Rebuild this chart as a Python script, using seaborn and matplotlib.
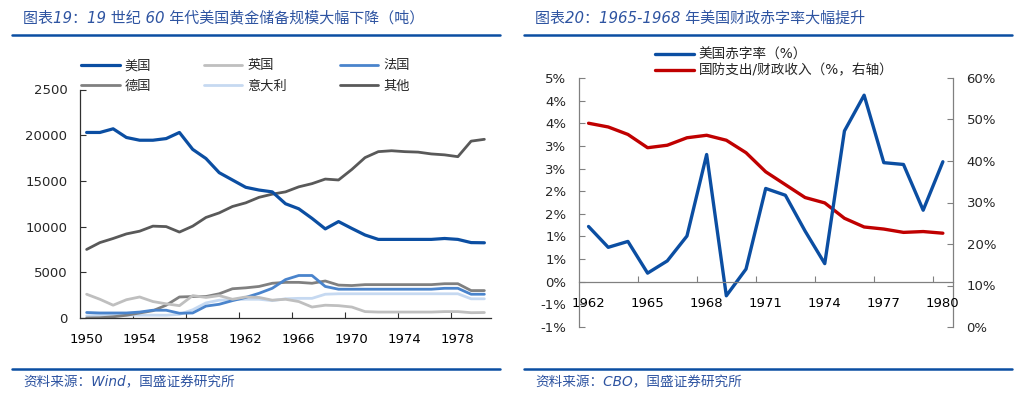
import numpy as np
import pandas as pd
import matplotlib
matplotlib.use('Agg')
import matplotlib.pyplot as plt
from matplotlib.lines import Line2D
from matplotlib.ticker import FixedLocator
import seaborn as sns

# ---- left chart: gold reserves (tonnes) ----
years = list(range(1950, 1981))
us = [20300, 20300, 20700, 19750, 19450, 19450, 19630, 20300, 18450, 17450,
      15900, 15100, 14300, 14000, 13800, 12500, 11950, 10900, 9750, 10550,
      9800, 9080, 8600, 8600, 8600, 8600, 8600, 8700, 8600, 8250, 8230]
uk = [2600, 2050, 1400, 2000, 2300, 1800, 1550, 1350, 2450, 2250,
      2450, 2050, 2300, 2250, 1950, 2050, 1800, 1200, 1400, 1350,
      1200, 700, 650, 650, 650, 650, 650, 700, 700, 580, 600]
france = [600, 550, 550, 550, 650, 850, 850, 520, 550, 1300,
          1500, 1900, 2250, 2700, 3250, 4200, 4650, 4650, 3450, 3150,
          3150, 3150, 3150, 3150, 3150, 3150, 3150, 3250, 3250, 2600, 2600]
germany = [0, 30, 130, 300, 550, 800, 1400, 2300, 2350, 2350,
           2650, 3200, 3300, 3450, 3800, 3900, 3900, 3800, 4050, 3600,
           3550, 3650, 3650, 3650, 3650, 3650, 3650, 3750, 3750, 3000, 3000]
italy = [230, 300, 310, 310, 310, 310, 300, 400, 900, 1650,
         1950, 2000, 2050, 2050, 1900, 2100, 2150, 2150, 2600, 2650,
         2650, 2650, 2650, 2650, 2650, 2650, 2650, 2650, 2650, 2100, 2100]
others = [7500, 8250, 8700, 9200, 9500, 10050, 10000, 9400, 10050, 11000,
          11500, 12200, 12600, 13200, 13550, 13800, 14350, 14700, 15200, 15100,
          16250, 17550, 18200, 18300, 18200, 18150, 17950, 17850, 17650, 19350, 19550]
left_yticks = [0, 5000, 10000, 15000, 20000, 25000]
left_yticklabels = ['0', '5000', '10000', '15000', '20000', '2500']
left_xticks = [1950, 1954, 1958, 1962, 1966, 1970, 1974, 1978]

# ---- right chart: deficit ratio and defence / revenue ----
years2 = list(range(1962, 1981))
deficit = [1.22, 0.76, 0.89, 0.19, 0.46, 1.01, 2.81, -0.31, 0.28, 2.06,
           1.91, 1.12, 0.40, 3.33, 4.12, 2.63, 2.59, 1.58, 2.65]
defense = [49.1, 48.2, 46.4, 43.2, 43.8, 45.6, 46.2, 45.0, 42.0, 37.4,
           34.3, 31.2, 29.9, 26.2, 24.1, 23.6, 22.8, 23.0, 22.6]
right_ytick_vals = [-1, -0.5, 0, 0.5, 1, 1.5, 2, 2.5, 3, 3.5, 4, 4.5]
right_yticklabels = ['-1%', '-1%', '0%', '1%', '1%', '2%', '2%', '3%', '3%', '4%', '4%', '5%']
right_xticks = [1962, 1965, 1968, 1971, 1974, 1977, 1980]
twin_ticks = [0, 10, 20, 30, 40, 50, 60]

sns.set_theme(style='white')
plt.rcParams['font.family'] = ['DejaVu Sans', 'Noto Sans CJK SC']

W, H = 1024, 395
fig = plt.figure(figsize=(W / 100, H / 100), dpi=100)

head_color = '#2E54A1'
rule_color = '#0B4EA2'

def px(x0, y0, w, h):
    return [x0 / W, 1 - (y0 + h) / H, w / W, h / H]

# ---------------- left chart ----------------
ax1 = fig.add_axes(px(80, 89.5, 411, 228.5))
series = [
    ('美国', us, '#0B4EA2', 2.3),
    ('英国', uk, '#BFBFBF', 2.0),
    ('法国', france, '#4A84CC', 2.0),
    ('德国', germany, '#808080', 2.0),
    ('意大利', italy, '#C6D9F1', 2.0),
    ('其他', others, '#595959', 2.0),
]
for name, vals, color, lw in series[::-1]:
    sns.lineplot(x=years, y=vals, ax=ax1, color=color, linewidth=lw, label=name)

ax1.set_xlim(1949.5, 1980.5)
ax1.set_ylim(0, 25000)
ax1.set_yticks(left_yticks)
ax1.set_yticklabels(left_yticklabels)
ax1.set_xticks(left_xticks)
ax1.set_xticklabels([str(y) for y in left_xticks])
ax1.xaxis.set_minor_locator(FixedLocator([y - 0.5 for y in left_xticks[1:]]))
ax1.tick_params(axis='x', which='major', length=0, pad=11, labelsize=9.5, colors='#000000')
ax1.tick_params(axis='x', which='minor', bottom=True, length=4, width=0.8, direction='in', color='#303030')
ax1.tick_params(axis='y', left=True, length=4, width=0.8, direction='in', pad=9, labelsize=9.5, color='#303030')
for s in ['top', 'right']:
    ax1.spines[s].set_visible(False)
for s in ['left', 'bottom']:
    ax1.spines[s].set_color('#303030')
    ax1.spines[s].set_linewidth(0.9)
ax1.set_xlabel('')
ax1.set_ylabel('')

h, l = ax1.get_legend_handles_labels()
lookup = dict(zip(l, h))
order = ['美国', '德国', '英国', '意大利', '法国', '其他']
ax1.legend([lookup[k] for k in order], order, ncol=3, frameon=False, fontsize=9.5,
           loc='upper left', bbox_to_anchor=(72 / W, 1 - 50 / H), bbox_transform=fig.transFigure,
           handlelength=2.9, handletextpad=0.4, columnspacing=4.0, labelspacing=0.55,
           borderpad=0.2)

# ---------------- right chart ----------------
ax2 = fig.add_axes(px(578.7, 78, 374, 249))
ax3 = ax2.twinx()
sns.lineplot(x=years2, y=deficit, ax=ax2, color='#0B4EA2', linewidth=2.4, label='美国赤字率（%）')
sns.lineplot(x=years2, y=defense, ax=ax3, color='#C00000', linewidth=2.4, label='国防支出/财政收入（%，右轴）')
ax2.set_zorder(ax3.get_zorder() + 1)
ax2.patch.set_visible(False)

ax2.set_xlim(1961.5, 1980.5)
ax2.set_ylim(-1, 4.5)
ax3.set_ylim(0, 60)
ax2.set_yticks(right_ytick_vals)
ax2.set_yticklabels(right_yticklabels)
ax3.set_yticks(twin_ticks)
ax3.set_yticklabels([f'{t}%' for t in twin_ticks])
ax2.set_xticks(right_xticks)
ax2.set_xticklabels([str(y) for y in right_xticks])
ax2.xaxis.set_minor_locator(FixedLocator([y + 2.5 for y in right_xticks[:-1]]))
ax2.spines['bottom'].set_position(('data', 0))
ax2.tick_params(axis='x', which='major', length=0, pad=11, labelsize=9.5, colors='#000000')
ax2.tick_params(axis='x', which='minor', bottom=True, length=4, width=0.8, direction='in', color='#808080')
ax2.tick_params(axis='y', left=True, length=4, width=0.8, direction='in', pad=9, labelsize=9.5, color='#808080')
ax3.tick_params(axis='y', right=True, length=4, width=0.8, direction='in', pad=10, labelsize=9.5, color='#808080')
for s in ['top', 'right']:
    ax2.spines[s].set_visible(False)
for s in ['top', 'left', 'bottom']:
    ax3.spines[s].set_visible(False)
for s in ['left', 'bottom']:
    ax2.spines[s].set_color('#808080')
    ax2.spines[s].set_linewidth(0.9)
ax3.spines['right'].set_color('#808080')
ax3.spines['right'].set_linewidth(0.9)
for a in (ax2, ax3):
    a.set_xlabel('')
    a.set_ylabel('')

h2, l2 = ax2.get_legend_handles_labels()
h3, l3 = ax3.get_legend_handles_labels()
ax2.get_legend().remove()
ax3.get_legend().remove()
fig.legend(h2 + h3, l2 + l3, frameon=False, fontsize=9.8, loc='upper left',
           bbox_to_anchor=(645 / W, 1 - 38 / H), bbox_transform=fig.transFigure,
           handlelength=2.9, handletextpad=0.35, labelspacing=0.15, borderpad=0.2)

# ---------------- headers and footers ----------------
fig.text(23 / W, 1 - 18 / H, '图表19：19 世纪 60 年代美国黄金储备规模大幅下降（吨）',
         fontsize=10.8, style='italic', color=head_color, va='center')
fig.text(535 / W, 1 - 18 / H, '图表20：1965-1968 年美国财政赤字率大幅提升',
         fontsize=10.8, style='italic', color=head_color, va='center')
fig.text(23 / W, 1 - 382 / H, '资料来源：Wind，国盛证券研究所',
         fontsize=9.8, style='italic', color=head_color, va='center')
fig.text(535 / W, 1 - 382 / H, '资料来源：CBO，国盛证券研究所',
         fontsize=9.8, style='italic', color=head_color, va='center')
for x0, x1 in [(12, 500), (524, 1012)]:
    for yy in (35, 369):
        fig.add_artist(Line2D([x0 / W, x1 / W], [1 - yy / H, 1 - yy / H],
                              color=rule_color, linewidth=1.8))

fig.savefig('out.png', dpi=100)
